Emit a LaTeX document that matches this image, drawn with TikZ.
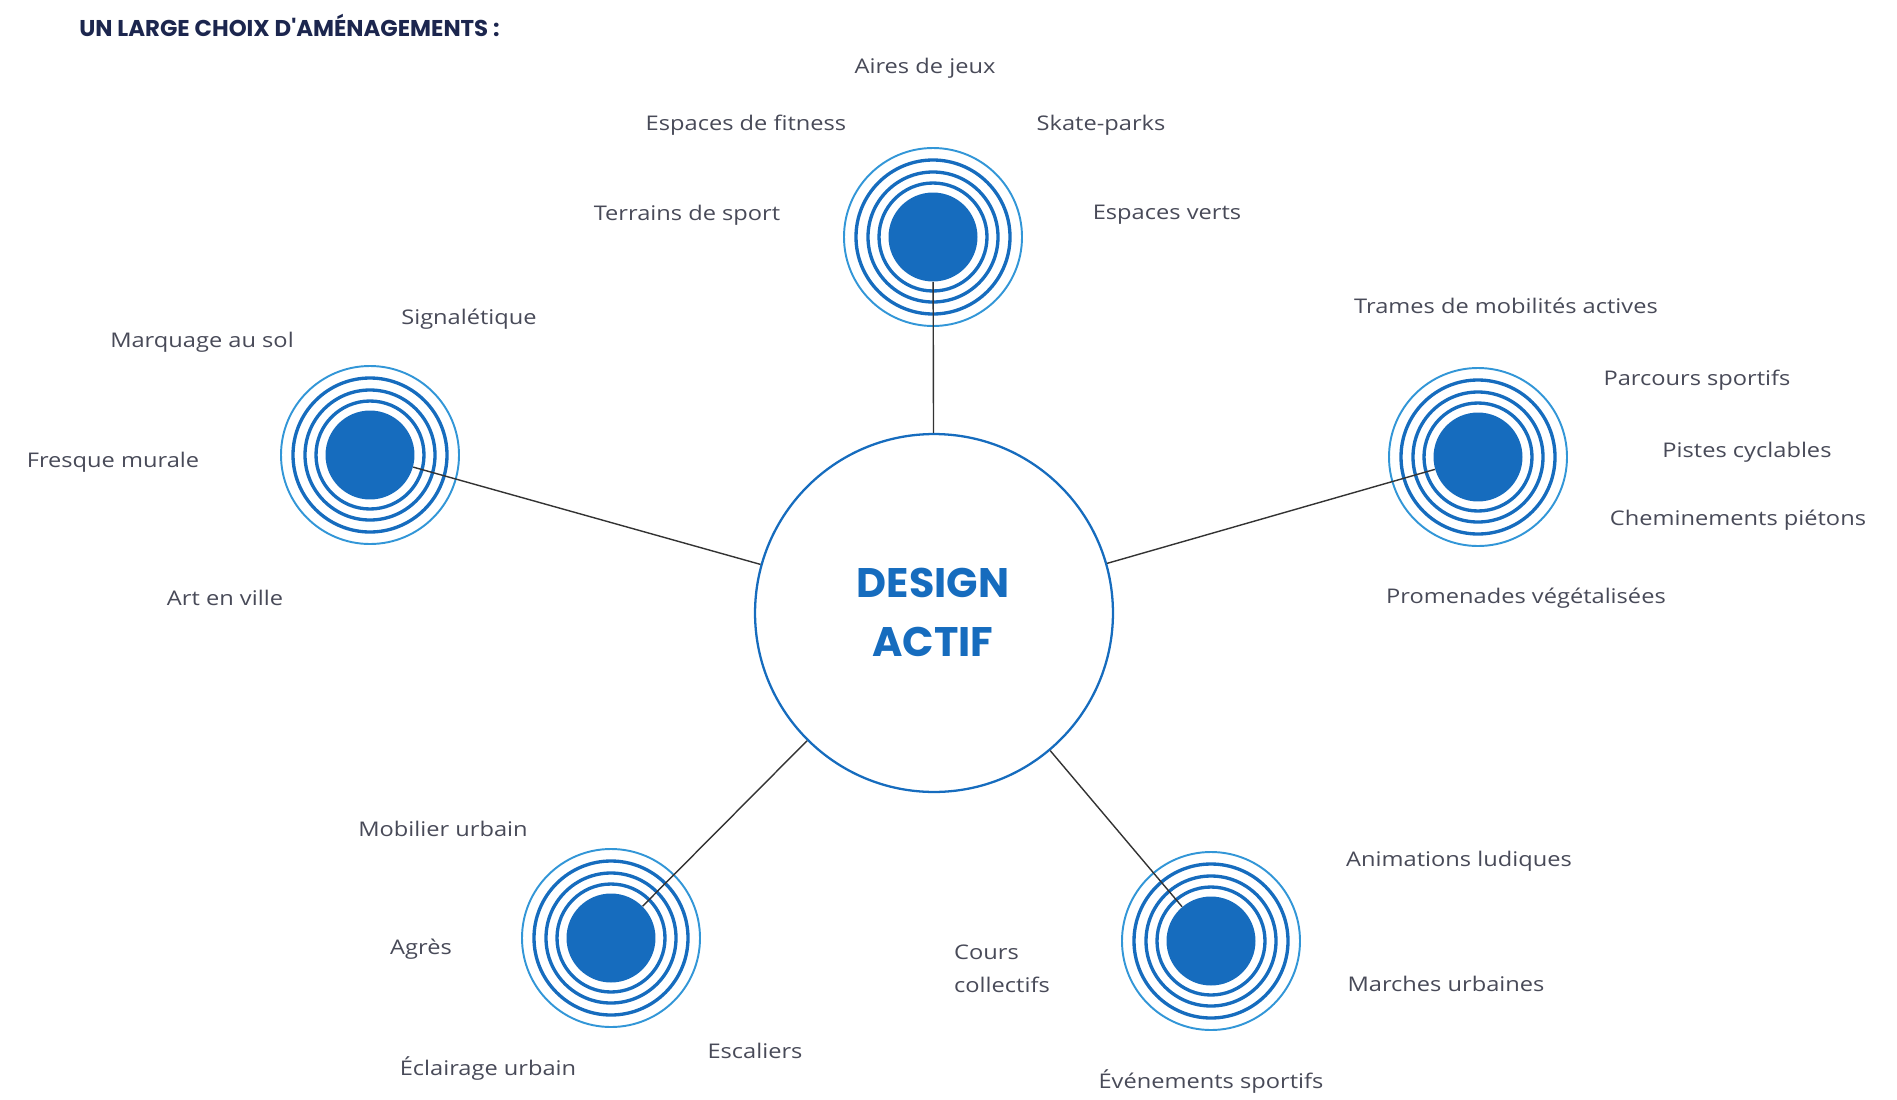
\documentclass[tikz,border=0pt]{standalone}
\usepackage{fontspec}
\setmainfont{Open Sans}[FakeStretch=1.17]
\newfontfamily\titlefont{Poppins}
\usetikzlibrary{positioning}

\definecolor{cible}{RGB}{22,108,190}
\definecolor{cibleclair}{RGB}{50,150,215}
\definecolor{texte}{RGB}{72,74,88}
\definecolor{titre}{RGB}{28,38,78}

\tikzset{
  lbl/.style={text=texte,inner sep=0pt,font=\fontsize{11.5}{18.5}\selectfont},
  disque/.style={circle,fill=cible,minimum size=1.78cm,inner sep=0pt},
  anneau/.style={draw=cible,line width=1.9pt},
  anneaufin/.style={draw=cibleclair,line width=1.1pt},
  lien/.style={draw=black!80,line width=0.8pt}
}

% one target: disk plus its rings
\newcommand{\cibleanneaux}[2]{%
  \node[disque] (#1) at (#2) {};
  \foreach \r in {54,65,77}
    \draw[anneau] (#1.center) circle (\r);
  \draw[anneaufin] (#1.center) circle (89);
}

\begin{document}
\begin{tikzpicture}[x=0.02cm,y=-0.02cm]
\useasboundingbox (0,0) rectangle (1897,1099);

\node[anchor=west,text=titre,inner sep=0pt,font=\titlefont\bfseries\fontsize{13}{15}\selectfont] (titre) at (79,25) {UN LARGE CHOIX D'AMÉNAGEMENTS :};

% centre
\node[circle,draw=cible,line width=1.3pt,minimum size=7.16cm,inner sep=0pt] (centre) at (934,613) {};
\node[text=cible,font=\titlefont\bfseries\fontsize{23.5}{26}\selectfont,inner sep=0pt] (design) at (933,583) {DESIGN};
\node[text=cible,font=\titlefont\bfseries\fontsize{23.5}{26}\selectfont,inner sep=0pt] (actif) at (933,642) {ACTIF};

% targets
\cibleanneaux{haut}{933,237}
\cibleanneaux{gauche}{370,455}
\cibleanneaux{droite}{1478,457}
\cibleanneaux{basgauche}{611,938}
\cibleanneaux{basdroite}{1211,941}

\draw[lien] (centre) -- (haut);
\draw[lien] (centre) -- (gauche);
\draw[lien] (centre) -- (droite);
\draw[lien] (centre) -- (basgauche);
\draw[lien] (centre) -- (basdroite);

% top
\node[lbl] (jeux) at (925,68) {Aires de jeux};
\node[lbl] (fitness) at (746,125) {Espaces de fitness};
\node[lbl] (skate) at (1101,125) {Skate-parks};
\node[lbl] (terrains) at (687,215) {Terrains de sport};
\node[lbl] (verts) at (1167,215) {Espaces verts};

% right
\node[lbl] (trames) at (1506,306) {Trames de mobilités actives};
\node[lbl] (parcours) at (1697,380) {Parcours sportifs};
\node[lbl] (pistes) at (1747,452) {Pistes cyclables};
\node[lbl] (chemins) at (1738,520) {Cheminements piétons};
\node[lbl] (promenades) at (1526,598) {Promenades végétalisées};

% left
\node[lbl] (signal) at (469,319) {Signalétique};
\node[lbl] (marquage) at (202,342) {Marquage au sol};
\node[lbl] (fresque) at (113,462) {Fresque murale};
\node[lbl] (art) at (225,598) {Art en ville};

% bottom left
\node[lbl] (mobilier) at (443,829) {Mobilier urbain};
\node[lbl] (agres) at (421,949) {Agrès};
\node[lbl] (eclairage) at (488,1069) {Éclairage urbain};
\node[lbl] (escaliers) at (755,1051) {Escaliers};

% bottom right
\node[lbl,align=left] (cours) at (1002,969) {Cours\\collectifs};
\node[lbl] (animations) at (1459,861) {Animations ludiques};
\node[lbl] (marches) at (1446,984) {Marches urbaines};
\node[lbl] (evenements) at (1211,1082) {Événements sportifs};
\end{tikzpicture}
\end{document}
